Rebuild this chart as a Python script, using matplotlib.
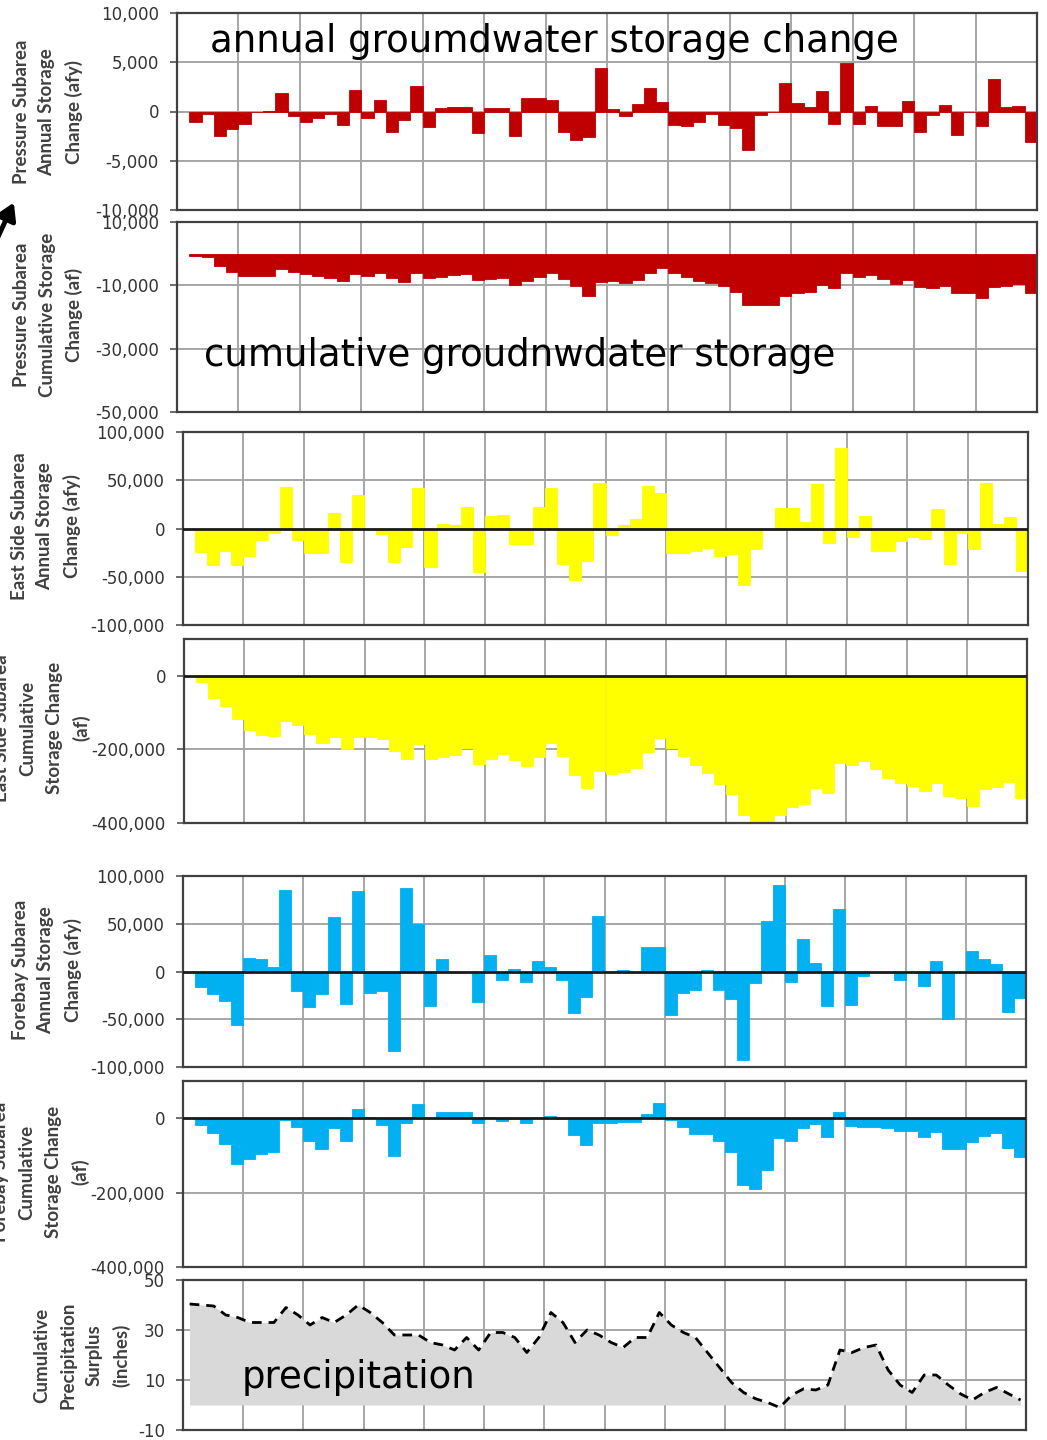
import numpy as np
import matplotlib
matplotlib.use("Agg")
import matplotlib.pyplot as plt

# ---- yearly values (bars occupy slots 1..69 on a 0..70 axis) ----
pressure_annual = [-1100, -300, -2480, -1800, -1300, -100, 100, 1870, -500, -1050,
                   -700, -300, -1400, 2180, -700, 1200, -2070, -850, 2550, -1530,
                   340, 440, 440, -2140, 340, 400, -2480, 1330, 1330, 1120,
                   -2070, -2890, -2550, 4420, 270, -480, 780, 2380, 950, -1360,
                   -1500, -1020, -240, -1360, -1700, -3940, -400, -50, 2930, 880,
                   470, 2040, -1230, 4930, -1270, 540, -1430, -1430, 1020, -2070,
                   -340, 680, -2350, 0, -1500, 3330, 500, 540, -3060]

pressure_cumulative = [-870, -1100, -3800, -5650, -7070, -7070, -6960, -4890, -5650, -6520,
                       -7070, -7600, -8700, -6520, -7070, -6200, -7800, -8900, -6200, -7600,
                       -7300, -6850, -6300, -8260, -7930, -7600, -10000, -8700, -7400, -6090,
                       -8150, -10300, -13260, -9000, -8700, -9240, -8370, -5980, -4670, -6200,
                       -7400, -8700, -9240, -10100, -11960, -16090, -16300, -16300, -13260, -12500,
                       -11960, -10000, -10870, -5980, -7280, -6740, -8150, -9460, -8370, -10540,
                       -10870, -10330, -12500, -12500, -14130, -10650, -10100, -9460, -12500]

east_annual = [-24100, -37900, -23400, -37900, -28300, -12400, -4800, 42800, -11400, -25900,
               -25200, 16200, -34500, 34500, -1000, -5500, -34800, -19300, 42000, -40000,
               4800, 3400, 22000, -44800, 12800, 14500, -16500, -16500, 22000, 42000,
               -37200, -53400, -33800, 47200, -6900, 4100, 10000, 44100, 37200, -25900,
               -25200, -22800, -20700, -28600, -26200, -59000, -21700, 0, 21400, 21400,
               6600, 46200, -15500, 83400, -9000, 12800, -22800, -22800, -13100, -9000,
               -10700, 20700, -37200, -4500, -21400, 47200, 4800, 11700, -44100]

east_cumulative = [-18200, -59000, -81800, -118000, -148000, -160000, -163600, -121800, -132700, -157300,
                   -181800, -167300, -200000, -167300, -165500, -171000, -205500, -225500, -186400, -225500,
                   -221000, -216400, -195500, -239000, -227300, -211800, -228200, -245500, -221000, -181800,
                   -218200, -270900, -305500, -260000, -266400, -261800, -250900, -207300, -169100, -195500,
                   -219100, -241800, -264500, -293600, -320900, -378200, -396400, -396400, -378200, -357300,
                   -348200, -305500, -318200, -237300, -243600, -232700, -254500, -277300, -290900, -298200,
                   -311800, -290900, -327300, -332700, -354500, -307300, -302700, -289100, -332700]

forebay_annual = [-16400, -23400, -30400, -55900, 14000, 12600, 4500, 85000, -19900, -37400,
                  -23400, 57000, -33900, 83900, -22400, -19900, -82900, 87400, 50000, -36400,
                  13300, 0, 0, -32200, 16800, -9400, 2100, -11200, 11500, 5200,
                  -9400, -43400, -26200, 57700, 0, 2000, 0, 25200, 25900, -45100,
                  -22400, -19200, 2000, -19200, -28700, -92300, -11900, 52400, 90200, -11200,
                  34300, 9100, -36400, 65700, -35000, -5200, 0, 0, -9400, 0,
                  -15400, 10800, -49700, 0, 21000, 13300, 8000, -42700, -28000]

forebay_cumulative = [-17900, -40400, -70000, -123800, -109400, -96000, -89700, -5000, -24200, -61000,
                      -83400, -26900, -61000, 24200, 2000, -17900, -100400, -11700, 37700, 1300,
                      17900, 17900, 17900, -13500, 4500, -6300, -3000, -11700, 0, 6300,
                      -2000, -44800, -71700, -13500, -11700, -10000, -10000, 11700, 40400, -4000,
                      -24200, -43000, -43000, -61000, -89700, -179400, -191000, -139000, -53800, -60100,
                      -26900, -15200, -49300, 17900, -20600, -24200, -24200, -26900, -33200, -33200,
                      -49300, -35900, -83400, -83400, -62800, -47500, -40400, -78900, -104900]

precip_surplus = [40.4, 40, 39.6, 36, 35, 33, 33, 33, 39, 36,
                  32, 35, 33, 36, 40, 37, 33, 28, 28, 28,
                  25, 24, 22, 27, 22, 29, 29, 27, 21, 27,
                  37, 33, 25, 30, 28, 25, 23, 27, 27, 37,
                  32, 29, 27, 21, 15, 9, 5, 2.5, 1, -1,
                  4, 6.5, 6, 8, 22, 21, 23, 24, 14, 8,
                  5, 12, 12, 8, 4.5, 2, 5, 7, 4.5, 2]

# ---- axis tick labels ----
ticks_p_annual = [10000, 5000, 0, -5000, -10000]
labels_p_annual = ["10,000", "5,000", "0", "-5,000", "-10,000"]
ticks_p_cum = [10000, -10000, -30000, -50000]
labels_p_cum = ["10,000", "-10,000", "-30,000", "-50,000"]
ticks_annual = [100000, 50000, 0, -50000, -100000]
labels_annual = ["100,000", "50,000", "0", "-50,000", "-100,000"]
ticks_cum = [0, -200000, -400000]
labels_cum = ["0", "-200,000", "-400,000"]
ticks_precip = [50, 30, 10, -10]
labels_precip = ["50", "30", "10", "-10"]

RED = "#C00000"
YELLOW = "#FFFF00"
BLUE = "#00B0F0"
GRID = "#a6a6a6"

W, H = 1047, 1440
fig = plt.figure(figsize=(W / 100, H / 100), dpi=100)


def add_axes_px(left, top, right, bottom):
    return fig.add_axes([left / W, 1 - bottom / H, (right - left) / W, (bottom - top) / H])


def style(ax, ylim, ticks, labels, hgrid, zero_line=False):
    ax.set_xlim(0, 70)
    ax.set_ylim(*ylim)
    ax.set_xticks(np.arange(5, 70, 5))
    ax.tick_params(axis="x", length=0, labelbottom=False)
    ax.set_yticks(ticks)
    ax.set_yticklabels(labels)
    ax.tick_params(axis="y", length=5, width=1.2, color="#555555",
                   labelsize=12, labelcolor="#333333", pad=8)
    ax.set_axisbelow(True)
    ax.grid(axis="x", color=GRID, lw=1.4)
    for yv in hgrid:
        ax.axhline(yv, color=GRID, lw=1.4, zorder=0.5)
    if zero_line:
        ax.axhline(0, color="#1a1a1a", lw=2.0, zorder=3)
    for s in ax.spines.values():
        s.set_color("#404040")
        s.set_linewidth(1.6)


def bars(ax, values, color):
    ax.bar(slots, values, width=1.0, align="edge", color=color,
           edgecolor=color, linewidth=0.6, zorder=2)


slots = np.arange(1, 70)

# Pressure subarea, annual change
ax1 = add_axes_px(177, 13, 1037, 210)
bars(ax1, pressure_annual, RED)
style(ax1, (-10000, 10000), ticks_p_annual, labels_p_annual, [5000, 0, -5000])

# Pressure subarea, cumulative change
ax2 = add_axes_px(177, 222, 1037, 412)
bars(ax2, pressure_cumulative, RED)
style(ax2, (-50000, 10000), ticks_p_cum, labels_p_cum, [-10000, -30000])

# East Side subarea, annual change
ax3 = add_axes_px(183, 432, 1028, 625)
bars(ax3, east_annual, YELLOW)
style(ax3, (-100000, 100000), ticks_annual, labels_annual, [50000, -50000], zero_line=True)

# East Side subarea, cumulative change
ax4 = add_axes_px(184, 639, 1027, 823)
bars(ax4, east_cumulative, YELLOW)
style(ax4, (-400000, 100000), ticks_cum, labels_cum, [-200000], zero_line=True)

# Forebay subarea, annual change
ax5 = add_axes_px(183, 876, 1026, 1067)
bars(ax5, forebay_annual, BLUE)
style(ax5, (-100000, 100000), ticks_annual, labels_annual, [50000, -50000], zero_line=True)

# Forebay subarea, cumulative change
ax6 = add_axes_px(183, 1081, 1026, 1267)
bars(ax6, forebay_cumulative, BLUE)
style(ax6, (-400000, 100000), ticks_cum, labels_cum, [-200000], zero_line=True)

# Cumulative precipitation surplus
ax7 = add_axes_px(183, 1280, 1026, 1430)
px = np.arange(len(precip_surplus)) + 0.55
ax7.fill_between(px, precip_surplus, 0, color="#D9D9D9", lw=0, zorder=2)
ax7.plot(px, precip_surplus, color="black", lw=2.0, ls=(0, (3.5, 2.5)), zorder=3)
style(ax7, (-10, 50), ticks_precip, labels_precip, [30, 10])

# ---- rotated axis titles ----
ylab = dict(rotation=90, ha="center", va="center", multialignment="center",
            fontsize=13.5, fontweight="bold", color="#404040", family="Lato", linespacing=1.65)


def fig_text_px(x, y, s, **kw):
    fig.text(x / W, 1 - y / H, s, **kw)


fig_text_px(48, 112, "Pressure Subarea\nAnnual Storage\nChange (afy)", **ylab)
fig_text_px(48, 315, "Pressure Subarea\nCumulative Storage\nChange (af)", **ylab)
fig_text_px(46, 526, "East Side Subarea\nAnnual Storage\nChange (afy)", **ylab)
fig_text_px(42, 728, "East Side Subarea\nCumulative\nStorage Change\n(af)", **ylab)
fig_text_px(47, 970, "Forebay Subarea\nAnnual Storage\nChange (afy)", **ylab)
fig_text_px(41, 1172, "Forebay Subarea\nCumulative\nStorage Change\n(af)", **ylab)
fig_text_px(82, 1355, "Cumulative\nPrecipitation\nSurplus\n(inches)", **ylab)

# ---- panel annotations ----
note = dict(fontsize=26.7, color="black", family="DejaVu Sans", ha="left", va="center")
fig_text_px(210, 41, "annual groumdwater storage change", **note)
fig_text_px(204, 355, "cumulative groudnwdater storage", **note)
fig_text_px(242, 1377, "precipitation", **note)

# pointer at the left margin
fig.add_artist(matplotlib.patches.FancyArrowPatch(
    (-8 / W, 1 - 250 / H), (15 / W, 1 - 200 / H), transform=fig.transFigure,
    arrowstyle="-|>,head_length=10,head_width=6", color="black", lw=3.5))

fig.savefig("out.png", dpi=100)
